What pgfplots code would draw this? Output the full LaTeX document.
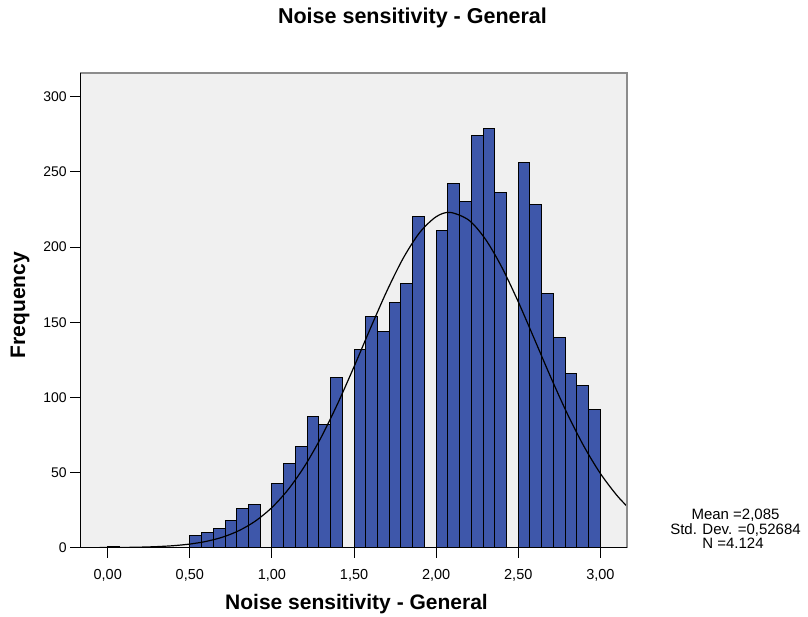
\documentclass[border=0pt]{standalone}
\usepackage{pgfplots}
\pgfplotsset{compat=1.18}
\usepackage{fontspec}
\setmainfont{Liberation Sans}

\definecolor{barblue}{RGB}{62,87,170}
\definecolor{plotbg}{RGB}{240,240,240}
\definecolor{framegray}{RGB}{140,140,140}

\begin{document}
\begin{tikzpicture}
\useasboundingbox (0,0) rectangle (808bp,617bp);
\begin{axis}[
  at={(80.3bp,69.3bp)}, anchor=south west,
  scale only axis, width=547bp, height=474.4bp,
  xmin=-0.167, xmax=3.164, ymin=0, ymax=315.6,
  axis background/.style={fill=plotbg},
  axis line style={draw=none},
  tick pos=left, tick align=outside,
  major tick length=10bp,
  every tick/.style={black, line width=1bp},
  xtick={0,0.5,1,1.5,2,2.5,3},
  xticklabels={{0,00},{0,50},{1,00},{1,50},{2,00},{2,50},{3,00}},
  ytick={0,50,100,150,200,250,300},
  yticklabel style={font=\fontsize{14bp}{16bp}\selectfont},
  xticklabel style={font=\fontsize{14.5bp}{16bp}\selectfont, yshift=-8bp},
  /pgf/number format/assume math mode=true,
  after end axis/.code={
    \draw[framegray, line width=2bp] (rel axis cs:0,1) -- (rel axis cs:1,1) -- (rel axis cs:1,0);
    \draw[black, line width=1.3bp] (rel axis cs:0,1) -- (rel axis cs:0,0) -- (rel axis cs:1,0);
  },
]
% histogram, bins of width 1/14
\addplot[ybar, bar width=0.0714286, bar shift=0pt, fill=barblue, draw=black, line width=1bp]
  coordinates {
  (0.0357,1)
  (0.5357,8) (0.6071,10) (0.6786,13) (0.7500,18) (0.8214,26) (0.8929,29)
  (1.0357,43) (1.1071,56) (1.1786,67) (1.2500,87) (1.3214,82) (1.3929,113)
  (1.5357,132) (1.6071,154) (1.6786,144) (1.7500,163) (1.8214,176) (1.8929,220)
  (2.0357,211) (2.1071,242) (2.1786,230) (2.2500,274) (2.3214,279) (2.3929,236)
  (2.5357,256) (2.6071,228) (2.6786,169) (2.7500,140) (2.8214,116) (2.8929,108) (2.9643,92)
  };
% fitted normal curve (mean 2.085, sd 0.52684, N 4124)
\addplot[black, line width=1.2bp, smooth] coordinates {
  (-0.17,0.02) (0.0,0.09) (0.1,0.18) (0.2,0.37) (0.3,0.72) (0.4,1.34)
  (0.5,2.42) (0.6,4.20) (0.7,7.04) (0.8,11.40) (0.9,17.78) (1.0,26.76)
  (1.1,38.84) (1.2,54.41) (1.3,73.51) (1.4,95.79) (1.5,120.42) (1.6,146.02)
  (1.7,170.79) (1.8,192.70) (1.9,209.72) (2.0,220.18) (2.085,223.06) (2.2,217.81)
  (2.3,205.24) (2.4,186.55) (2.5,163.57) (2.6,138.34) (2.7,112.86) (2.8,88.81)
  (2.9,67.42) (3.0,49.37) (3.1,34.86) (3.17,26.76)
  };
\end{axis}

\node[anchor=base, font=\bfseries\fontsize{21.5bp}{24bp}\selectfont] at (412.5bp,593bp) {Noise sensitivity - General};
\node[anchor=base, font=\bfseries\fontsize{21bp}{24bp}\selectfont] at (356.5bp,8bp) {Noise sensitivity - General};
\node[rotate=90, font=\bfseries\fontsize{21bp}{24bp}\selectfont] at (20bp,312bp) {Frequency};
\begin{scope}[every node/.style={anchor=base, font=\fontsize{15bp}{17bp}\selectfont, inner sep=0pt}]
\node at (735.5bp,97bp) {Mean =2,085};
\node at (735.5bp,82.5bp) {Std. Dev. =0,52684};
\node at (733bp,68bp) {N =4.124};
\end{scope}
\end{tikzpicture}
\end{document}
